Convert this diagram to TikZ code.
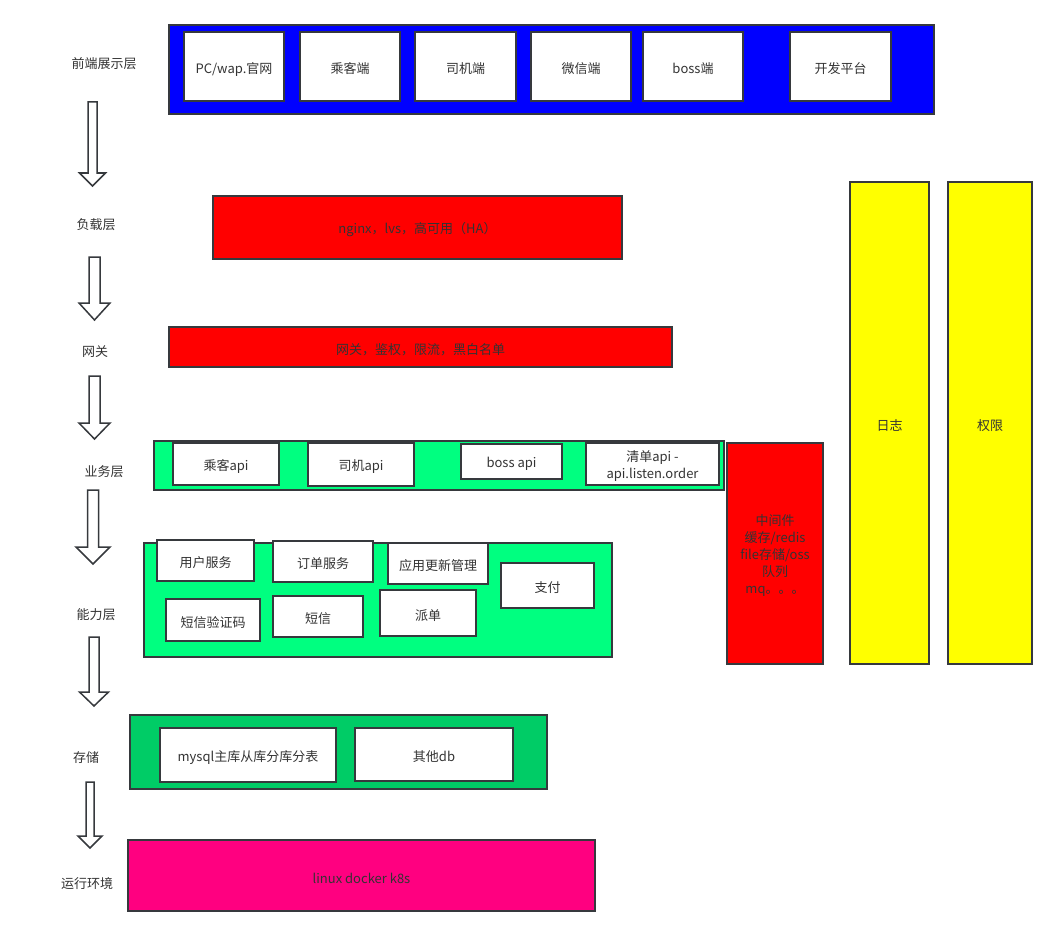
\documentclass[tikz,border=0pt]{standalone}
\usepackage{fontspec}
\setmainfont{Noto Sans CJK SC}
\definecolor{edge}{HTML}{36393D}
\definecolor{txt}{HTML}{333333}
\definecolor{blu}{HTML}{0000FF}
\definecolor{rd}{HTML}{FF0000}
\definecolor{gr}{HTML}{00FF80}
\definecolor{dgr}{HTML}{00CC66}
\definecolor{pk}{HTML}{FF0080}
\definecolor{yl}{HTML}{FFFF00}
\newcommand\rb[7]{\node[#2,minimum width={#5-#3},minimum height={#6-#4}] (#1) at ({(#3+#5)/2},{(#4+#6)/2}) {};
  \node[boxtext] (#1-t) at ([yshift=-2.5pt]#1.center) {#7};}
\newcommand\barrow[7]{\draw[blockarrow] ({#2-#6},#3) -- ({#2+#6},#3) -- ({#2+#6},#5) -- ({#2+#7},#5) -- (#2,#4) -- ({#2-#7},#5) -- ({#2-#6},#5) -- cycle; \coordinate (#1) at (#2,#4);}
\begin{document}
\begin{tikzpicture}[x=1pt,y=-1pt,
  every node/.style={font=\fontsize{13}{17}\selectfont, text=txt, inner sep=0pt, outer sep=0pt},
  boxtext/.style={align=center, font=\fontsize{13}{17}\selectfont},
  frame/.style={draw=edge, line width=2pt, rectangle},
  panel/.style={frame, fill=white},
  layer/.style={font=\fontsize{13}{17}\selectfont, text=txt},
  blockarrow/.style={draw=edge, line width=1.5pt, fill=white, line join=miter}]
\useasboundingbox (0,0) rectangle (1056,936);
% front-end layer
\rb{front}{frame,fill=blu}{169}{25}{934}{114}{}
\rb{pc}{panel}{184}{32}{284}{101}{PC/wap.官网}
\rb{pass}{panel}{300}{32}{400}{101}{乘客端}
\rb{drv}{panel}{415}{32}{516}{101}{司机端}
\rb{wx}{panel}{531}{32}{631}{101}{微信端}
\rb{boss}{panel}{643}{32}{743}{101}{boss端}
\rb{open}{panel}{790}{32}{891}{101}{开发平台}
% load layer
\rb{lb}{frame,fill=rd}{213}{196}{622}{259}{nginx，lvs，高可用（HA）}
% gateway
\rb{gw}{frame,fill=rd}{169}{327}{672}{367}{网关，鉴权，限流，黑白名单}
% business layer
\rb{biz}{frame,fill=gr}{154}{441}{724}{490}{}
\rb{papi}{panel}{173}{443}{279}{485}{乘客api}
\rb{dapi}{panel}{308}{443}{414}{486}{司机api}
\rb{bapi}{panel}{461}{444}{562}{479}{boss api}
\rb{qapi}{panel}{586}{443}{719}{485}{清单api -\\api.listen.order}
% capability layer
\rb{cap}{frame,fill=gr}{144}{543}{612}{657}{}
\rb{user}{panel}{157}{540}{254}{581}{用户服务}
\rb{order}{panel}{273}{541}{373}{582}{订单服务}
\rb{upd}{panel}{388}{543}{488}{584}{应用更新管理}
\rb{pay}{panel}{501}{563}{594}{608}{支付}
\rb{sms}{panel}{166}{599}{260}{641}{短信验证码}
\rb{msg}{panel}{273}{596}{363}{637}{短信}
\rb{disp}{panel}{380}{590}{476}{636}{派单}
% middleware
\rb{mid}{frame,fill=rd}{727}{443}{823}{664}{中间件\\缓存/redis\\file存储/oss\\队列\\mq。。。}
% logs, permissions
\rb{log}{frame,fill=yl}{850}{182}{929}{664}{日志}
\rb{perm}{frame,fill=yl}{948}{182}{1032}{664}{权限}
% storage
\rb{store}{frame,fill=dgr}{130}{715}{547}{789}{}
\rb{mysql}{panel}{160}{728}{336}{782}{mysql主库从库分库分表}
\rb{odb}{panel}{355}{728}{513}{781}{其他db}
% runtime
\rb{run}{frame,fill=pk}{128}{840}{595}{911}{linux docker k8s}
% layer labels
\node[layer] (l1) at (104,64) {前端展示层};
\node[layer] (l2) at (96,225) {负载层};
\node[layer] (l3) at (95,352) {网关};
\node[layer] (l4) at (104,472) {业务层};
\node[layer] (l5) at (96,615) {能力层};
\node[layer] (l6) at (86,758) {存储};
\node[layer] (l7) at (87,884) {运行环境};
% block arrows: name, cx, top, tip, head start, shaft half width, head half width
\barrow{a1}{92.5}{102}{186}{173}{4.5}{13}
\barrow{a2}{94.5}{257}{320}{303}{5.5}{15.5}
\barrow{a3}{94.5}{376}{439}{423}{5.5}{15.5}
\barrow{a4}{93}{490}{564}{547}{5.5}{17}
\barrow{a5}{94}{637}{706}{692}{5}{14.5}
\barrow{a6}{90}{782}{848}{836}{4}{12}
\end{tikzpicture}
\end{document}
